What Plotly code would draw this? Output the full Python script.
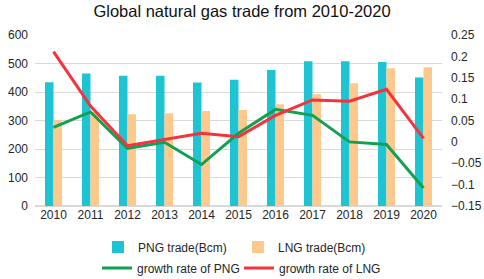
import plotly.graph_objects as go

years = ["2010", "2011", "2012", "2013", "2014", "2015", "2016", "2017", "2018", "2019", "2020"]
png_trade = [434, 465, 457, 457, 433, 443, 477, 508, 508, 505, 451]
lng_trade = [301, 330, 322, 325, 333, 337, 357, 392, 431, 483, 487]
png_growth = [0.034, 0.070, -0.015, -0.001, -0.053, 0.020, 0.076, 0.062, 0.000, -0.006, -0.108]
lng_growth = [0.211, 0.084, -0.009, 0.005, 0.020, 0.012, 0.062, 0.098, 0.095, 0.123, 0.008]

fig = go.Figure()
fig.add_trace(go.Bar(x=years, y=png_trade, name="PNG trade(Bcm)", legend="legend",
                     marker=dict(color="#1FC4D2", line=dict(width=0))))
fig.add_trace(go.Bar(x=years, y=lng_trade, name="LNG trade(Bcm)", legend="legend",
                     marker=dict(color="#FFC98E", line=dict(width=0))))
fig.add_trace(go.Scatter(x=years, y=png_growth, name="growth rate of PNG", yaxis="y2",
                         legend="legend2",
                         mode="lines", line=dict(color="#12A052", width=3)))
fig.add_trace(go.Scatter(x=years, y=lng_growth, name="growth rate of LNG", yaxis="y2",
                         legend="legend2",
                         mode="lines", line=dict(color="#F7323F", width=3)))

font_family = "Liberation Sans, Arial, sans-serif"
tick_color = "#262626"
leg_common = dict(orientation="h", xref="container", yref="container",
                  xanchor="left", yanchor="middle",
                  font=dict(size=12, color=tick_color), itemwidth=30,
                  bgcolor="rgba(0,0,0,0)")
fig.update_layout(
    width=484, height=279,
    margin=dict(l=35, r=42, t=35, b=73, autoexpand=False),
    paper_bgcolor="white", plot_bgcolor="white",
    font=dict(family=font_family, size=12, color=tick_color),
    title=dict(text="Global natural gas trade from 2010-2020", x=0.5, xanchor="center",
               y=0.96, yanchor="middle", font=dict(size=16.5, color="#111111")),
    barmode="group", bargap=0.54, bargroupgap=0,
    xaxis=dict(type="category", showgrid=False, showline=False, ticks="",
               tickfont=dict(size=12, color=tick_color)),
    yaxis=dict(range=[0, 600], dtick=100, showgrid=True, gridcolor="#D9D9D9",
               gridwidth=1, zeroline=True, zerolinecolor="#D9D9D9", ticks="",
               tickfont=dict(size=12, color=tick_color), ticklabelstandoff=6),
    yaxis2=dict(range=[-0.15, 0.25], dtick=0.05, overlaying="y", side="right",
                showgrid=False, zeroline=False, ticks="",
                tickfont=dict(size=12, color=tick_color), ticklabelstandoff=8),
    legend=dict(x=98 / 484, y=1 - 247 / 279, entrywidth=95, **leg_common),
    legend2=dict(x=97 / 484, y=1 - 268 / 279, entrywidth=97, **leg_common),
    showlegend=True,
)
fig.write_html("out.html", config={"displayModeBar": False},
               post_script="document.body.style.margin='0';document.body.style.padding='0';")
